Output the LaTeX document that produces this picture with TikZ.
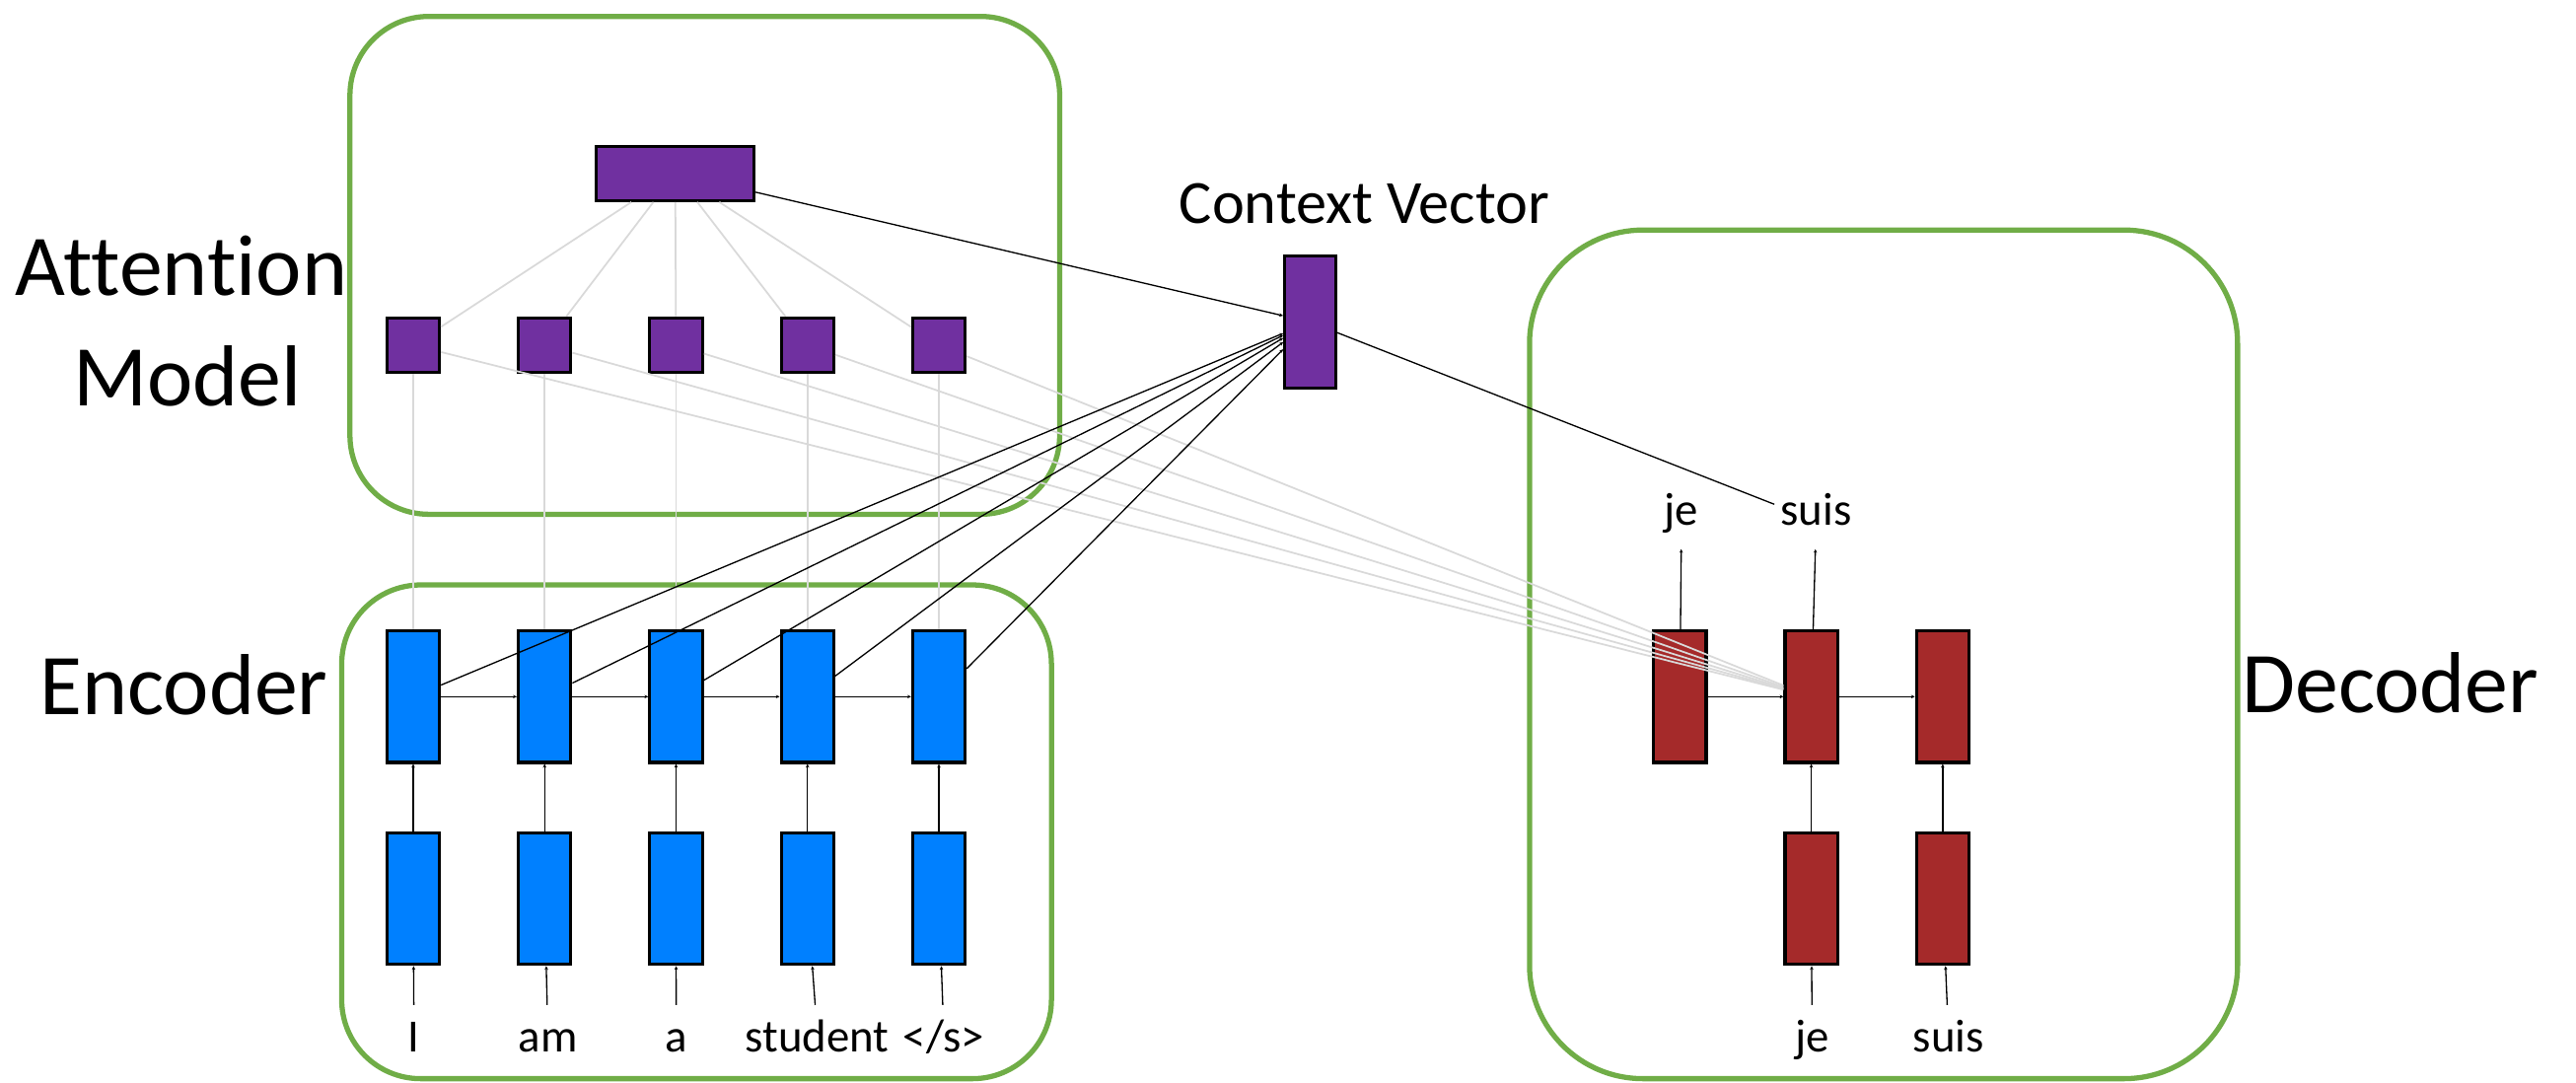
\documentclass[tikz,border=0pt]{standalone}
\usepackage{fontspec}
\setmainfont{Carlito}[Ligatures=CommonOff]
\usetikzlibrary{arrows.meta}
\definecolor{attpurple}{HTML}{7030A0}
\definecolor{encblue}{HTML}{0080FF}
\definecolor{decred}{HTML}{A52A2A}
\definecolor{boxgreen}{HTML}{70AD47}
\definecolor{faint}{HTML}{D9D9D9}
\newcommand{\eostoken}{</s>}
\begin{document}
\begin{tikzpicture}[x=0.02cm,y=-0.02cm,
  grbox/.style={draw=boxgreen, line width=1.8pt, rounded corners=#1},
  cell/.style={draw=black, line width=1.1pt, inner sep=0pt, minimum width=0.64cm},
  tallcell/.style={cell, minimum height=1.6cm},
  sqcell/.style={cell, fill=attpurple, minimum height=0.66cm},
  bigtxt/.style={font=\fontsize{30}{36}\selectfont, inner sep=0pt, anchor=base},
  ctxtxt/.style={font=\fontsize{21.3}{26}\selectfont, inner sep=0pt, anchor=base},
  word/.style={font=\fontsize{16}{19}\selectfont, inner sep=0pt, anchor=base, text height=16.2pt, text depth=4pt},
  toplabel/.style={font=\fontsize{16}{19}\selectfont, inner xsep=2pt, inner ysep=0pt, anchor=base, text height=11.3pt, text depth=8pt},
  conn/.style={draw=black, line width=0.45pt},
  arr/.style={conn, -{Stealth[length=1.3pt,width=1.2pt]}},
  softline/.style={draw=faint, line width=0.6pt}
]
\useasboundingbox (0,0) rectangle (1568,659);

% grouping boxes
\draw[grbox=0.96cm] (213,10) rectangle (645,313);
\draw[grbox=0.96cm] (208,356) rectangle (640,656.5);
\draw[grbox=1.38cm] (931,140) rectangle (1362,656.5);

% big labels
\node[bigtxt] (lblatt) at (110.5,180) {Attention};
\node[bigtxt] (lblmodel) at (114,247) {Model};
\node[bigtxt] (lblenc) at (112,435) {Encoder};
\node[bigtxt] (lbldec) at (1455,434) {Decoder};
\node[ctxtxt] (lblctx) at (830.5,136) {Context Vector};

% attention model
\node[cell, fill=attpurple, minimum width=1.92cm, minimum height=0.66cm] (att) at (411,105.5) {};
\node[cell, fill=attpurple, minimum width=0.62cm, minimum height=1.6cm] (ctx) at (797.5,196) {};

% encoder columns
\foreach \i/\xx/\w/\wx in {1/251.5/I/252, 2/331.5/am/333.5, 3/411.5/a/411.6, 4/491.5/student/497.5, 5/571.5/\eostoken/574.5}{
  \node[sqcell] (a\i) at (\xx,210) {};
  \node[tallcell, fill=encblue] (e\i) at (\xx,424) {};
  \node[tallcell, fill=encblue] (b\i) at (\xx,547) {};
  \node[word] (w\i) at (\wx,640.5) {\w};
}

% decoder columns
\node[tallcell, fill=decred] (d1) at (1022.5,424) {};
\node[tallcell, fill=decred] (d2) at (1102.5,424) {};
\node[tallcell, fill=decred] (d3) at (1182.5,424) {};
\node[tallcell, fill=decred] (db2) at (1102.5,547) {};
\node[tallcell, fill=decred] (db3) at (1182.5,547) {};
\node[word] (dje) at (1103,640.5) {je};
\node[word] (dsuis) at (1186,640.5) {suis};
\node[toplabel] (tje) at (1023.5,319.8) {je};
\node[toplabel] (tsuis) at (1105.5,319.8) {suis};

% attention connections (faint)
\foreach \i in {1,...,5}{
  \draw[softline] (att) -- (a\i);
  \draw[softline] (a\i) -- (e\i);
  \draw[softline] (a\i) -- (d2);
}

% encoder connections
\foreach \i in {1,...,5}{
  \draw[arr] (w\i) -- (b\i);
  \draw[arr] (b\i) -- (e\i);
  \draw[arr] (e\i) -- (ctx);
}
\foreach \i/\j in {1/2, 2/3, 3/4, 4/5}{
  \draw[arr] (e\i) -- (e\j);
}

% context vector
\draw[arr] (att) -- (ctx);
\draw[conn] (ctx) -- (tsuis);

% decoder connections
\draw[arr] (d1) -- (d2);
\draw[arr] (d2) -- (d3);
\draw[arr] (db2) -- (d2);
\draw[arr] (db3) -- (d3);
\draw[arr] (dje) -- (db2);
\draw[arr] (dsuis) -- (db3);
\draw[arr] (d1) -- (tje);
\draw[arr] (d2) -- (tsuis);
\end{tikzpicture}
\end{document}
